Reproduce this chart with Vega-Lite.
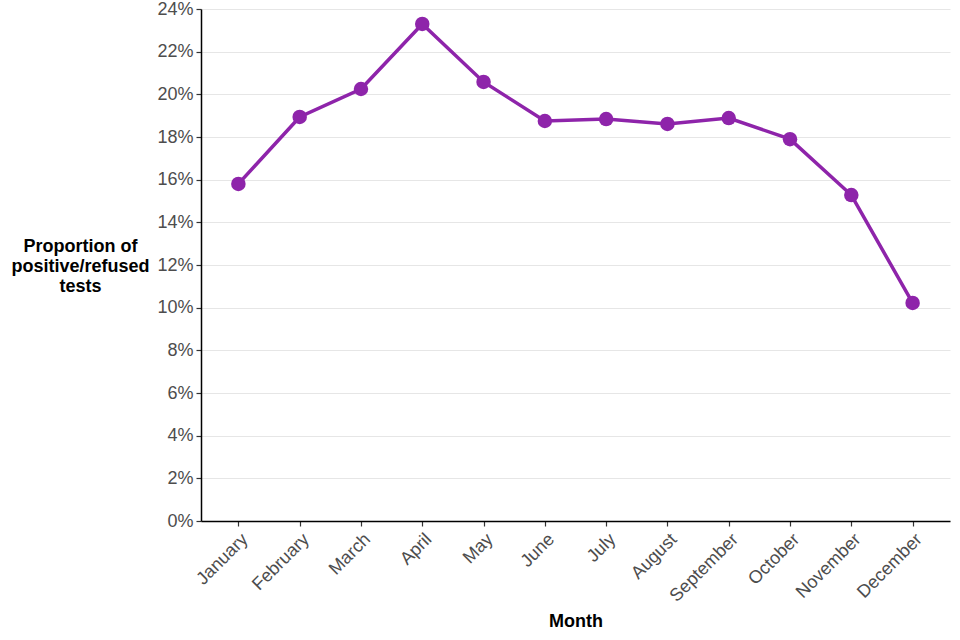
{
  "$schema": "https://vega.github.io/schema/vega-lite/v6.json",
  "width": 749,
  "height": 512,
  "autosize": "none",
  "padding": {"left": 201, "top": 9, "right": 10, "bottom": 119},
  "background": "white",
  "config": {
    "view": {"stroke": null},
    "font": "Liberation Sans",
    "axis": {
      "labelFont": "Liberation Sans",
      "titleFont": "Liberation Sans",
      "labelFontSize": 18,
      "labelColor": "#4d4d4d",
      "titleFontSize": 18,
      "titleColor": "#000000",
      "titleFontWeight": "bold",
      "domainColor": "#000000",
      "domainWidth": 1.5,
      "tickColor": "#333333",
      "tickWidth": 1.2,
      "tickSize": 5,
      "gridColor": "#e6e6e6",
      "gridWidth": 1
    }
  },
  "data": {
    "values": [
      {"month": "January", "value": 0.158},
      {"month": "February", "value": 0.1894},
      {"month": "March", "value": 0.2025},
      {"month": "April", "value": 0.233},
      {"month": "May", "value": 0.2058},
      {"month": "June", "value": 0.1875},
      {"month": "July", "value": 0.1884},
      {"month": "August", "value": 0.1861},
      {"month": "September", "value": 0.1889},
      {"month": "October", "value": 0.179},
      {"month": "November", "value": 0.1528},
      {"month": "December", "value": 0.1022}
    ]
  },
  "encoding": {
    "x": {
      "field": "month",
      "type": "ordinal",
      "sort": null,
      "scale": {"type": "point", "padding": 0.61},
      "axis": {
        "title": "Month",
        "labelAngle": -45,
        "labelAlign": "right",
        "labelBaseline": "top",
        "labelPadding": 4,
        "titlePadding": 8,
        "grid": false
      }
    },
    "y": {
      "field": "value",
      "type": "quantitative",
      "scale": {"domain": [0, 0.24], "nice": false},
      "axis": {
        "format": ".0%",
        "values": [0, 0.02, 0.04, 0.06, 0.08, 0.1, 0.12, 0.14, 0.16, 0.18, 0.2, 0.22, 0.24],
        "title": ["Proportion of", "positive/refused", "tests"],
        "titleAngle": 0,
        "titleAlign": "center",
        "titleBaseline": "middle",
        "titleX": -121,
        "titleY": 237,
        "titleLineHeight": 20,
        "grid": true,
        "labelPadding": 3
      }
    }
  },
  "layer": [
    {"mark": {"type": "line", "color": "#8E24AA", "strokeWidth": 3.5}},
    {"mark": {"type": "point", "filled": true, "opacity": 1, "color": "#8E24AA", "size": 210}}
  ]
}
